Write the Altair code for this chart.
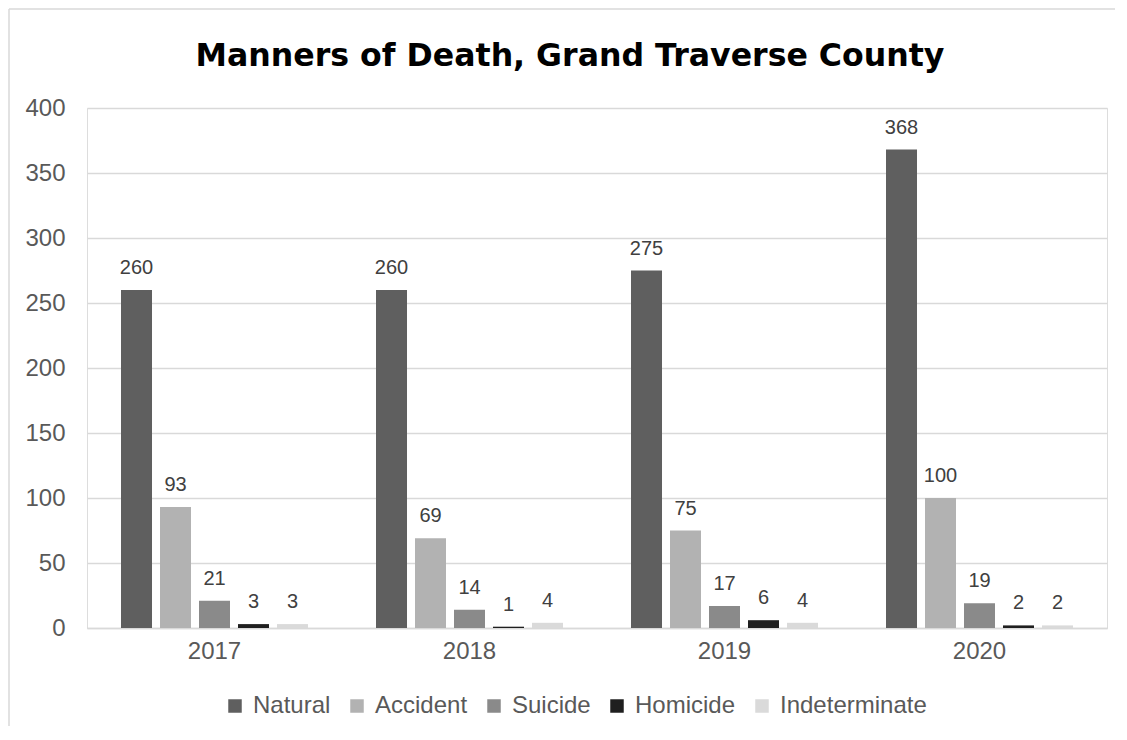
import altair as alt
import pandas as pd

title_text = "Manners of Death, Grand Traverse County"
years = ["2017", "2018", "2019", "2020"]
manners = ["Natural", "Accident", "Suicide", "Homicide", "Indeterminate"]
natural = [260, 260, 275, 368]
accident = [93, 69, 75, 100]
suicide = [21, 14, 17, 19]
homicide = [3, 1, 6, 2]
indeterminate = [3, 4, 4, 2]
colors = ["#5f5f5f", "#b2b2b2", "#8a8a8a", "#1f1f1f", "#dadada"]

series = [natural, accident, suicide, homicide, indeterminate]
rows = []
for m, vals in zip(manners, series):
    for y, v in zip(years, vals):
        rows.append({"Year": y, "Manner": m, "Count": v})
df = pd.DataFrame(rows)

label_font = "Liberation Sans"

x = alt.X("Year:N", sort=years, title=None,
          scale=alt.Scale(paddingInner=0, paddingOuter=0),
          axis=alt.Axis(labelAngle=0, labelFontSize=24, labelColor="#595959",
                        labelFont=label_font, ticks=False, domainColor="#d9d9d9",
                        domainWidth=1.5, labelPadding=11, grid=False))
xo = alt.XOffset("Manner:N", sort=manners,
                 scale=alt.Scale(paddingInner=0.205, paddingOuter=0.872))
y = alt.Y("Count:Q", title=None,
          scale=alt.Scale(domain=[0, 400]),
          axis=alt.Axis(values=[0, 50, 100, 150, 200, 250, 300, 350, 400],
                        labelFontSize=24, labelColor="#595959", labelFont=label_font,
                        ticks=False, domain=False, gridColor="#d9d9d9", gridWidth=1.5,
                        labelPadding=22))

bars = alt.Chart(df).mark_bar().encode(
    x=x, xOffset=xo, y=y,
    color=alt.Color("Manner:N", sort=manners,
                    scale=alt.Scale(domain=manners, range=colors),
                    legend=alt.Legend(title=None, orient="none", direction="horizontal",
                                      legendX=136, legendY=586,
                                      symbolType="square", symbolSize=182,
                                      symbolStrokeWidth=0, labelFontSize=24,
                                      labelColor="#595959", labelFont=label_font,
                                      columnPadding=14, labelOffset=6)),
)

labels = alt.Chart(df).mark_text(
    baseline="alphabetic", dy=-16, fontSize=20, color="#404040", font=label_font
).encode(x=x, xOffset=xo, y=y, text="Count:Q")

title_df = pd.DataFrame({"t": [title_text]})
title = alt.Chart(title_df).mark_text(
    font="DejaVu Sans", fontSize=31.6, fontWeight="bold", color="#000000",
    baseline="alphabetic", align="center"
).encode(x=alt.value(483), y=alt.value(-42), text="t:N")

frame_left = alt.Chart(title_df).mark_rule(color="#d9d9d9", strokeWidth=1.5).encode(
    x=alt.value(-78), y=alt.value(-99), y2=alt.value(618)
)
frame_top = alt.Chart(title_df).mark_rule(color="#d9d9d9", strokeWidth=1.5).encode(
    x=alt.value(-78), x2=alt.value(1028), y=alt.value(-99)
)

chart = alt.layer(frame_left, frame_top, bars, labels, title).properties(
    width=1020, height=520,
    padding=0,
).configure_view(stroke=None).configure(background="white")

chart.save("out.html", embed_options={"renderer": "svg", "actions": False})
